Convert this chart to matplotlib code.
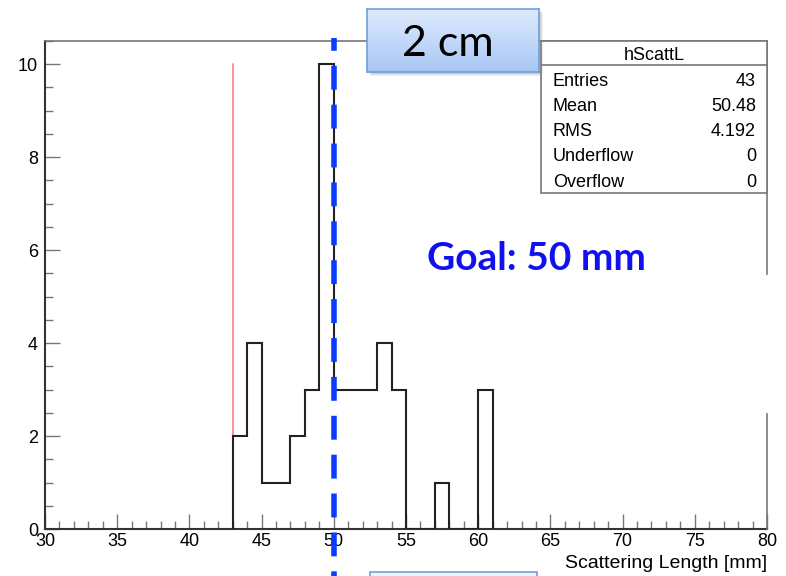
import numpy as np
import matplotlib
matplotlib.use("Agg")
import matplotlib.pyplot as plt
from matplotlib.patches import Rectangle
from matplotlib.lines import Line2D

# ---- data ----
bin_edges = np.arange(43, 62, 1)            # 1 mm bins, 43..61
counts = [2, 4, 1, 1, 2, 3, 10, 3, 3, 3, 4, 3, 0, 0, 1, 0, 0, 3]
red_line_x = 43
red_line_top = 10
goal_x = 50
stats_title = "hScattL"
stats_labels = ["Entries", "Mean", "RMS", "Underflow", "Overflow"]
stats_values = ["43", "50.48", "4.192", "0", "0"]
xticks = [30, 35, 40, 45, 50, 55, 60, 65, 70, 75, 80]
yticks = [0, 2, 4, 6, 8, 10]

W, H = 786, 576
fig = plt.figure(figsize=(W / 100, H / 100), dpi=100)


def fx(x):
    return x / W


def fy(y):
    return 1 - y / H


ax = fig.add_axes([fx(45), fy(529), fx(767) - fx(45), fy(41) - fy(529)])
ax.set_xlim(30, 80)
ax.set_ylim(0, 10.5)

ax.stairs(counts, bin_edges, baseline=0, color="#222222", lw=1.5, zorder=3)
ax.plot([red_line_x, red_line_x], [0, red_line_top], color="#f07a7a", lw=1.1, zorder=2)

# blue dashed goal line extending beyond the axes
ax.plot([goal_x, goal_x], [10.56, -1.02], color="#0a3cff", lw=4.0,
        linestyle=(2.0, (4.3, 2.7)), clip_on=False, zorder=5,
        dash_capstyle="butt")

ax.set_xticks(xticks)
ax.set_yticks(yticks)
ax.set_xticks(np.arange(30, 81, 1), minor=True)
ax.set_yticks(np.arange(0, 10.51, 0.5), minor=True)
tickfont = dict(family="Liberation Sans", size=13)
ax.set_xticklabels([str(t) for t in xticks], **tickfont)
ax.set_yticklabels([str(t) for t in yticks], **tickfont)
ax.tick_params(which="major", direction="in", length=11, width=1.0, color="#777777")
ax.tick_params(which="minor", direction="in", length=6, width=1.0, color="#777777")
ax.tick_params(axis="y", which="major", pad=5)
ax.tick_params(axis="x", which="major", pad=3)

for s in ["left", "bottom"]:
    ax.spines[s].set_color("#333333")
    ax.spines[s].set_linewidth(1.5)
ax.spines["top"].set_color("#777777")
ax.spines["top"].set_linewidth(1.2)
ax.spines["right"].set_visible(False)

# right frame, partially hidden
for y0, y1 in [(41, 274), (414, 529)]:
    fig.add_artist(Line2D([fx(767), fx(767)], [fy(y0), fy(y1)], color="#777777", lw=1.2))

fig.text(fx(767), fy(563), "Scattering Length [mm]", ha="right", va="center",
         family="Liberation Sans", size=14)

# stats box
fig.add_artist(Rectangle((fx(541), fy(193)), fx(767) - fx(541), fy(41) - fy(193),
                         transform=fig.transFigure, facecolor="white",
                         edgecolor="#777777", lw=1.2, zorder=6))
fig.add_artist(Line2D([fx(541), fx(767)], [fy(65), fy(65)], color="#777777", lw=1.2, zorder=7))
statfont = dict(family="Liberation Sans", size=13, zorder=8)
fig.text(fx(654), fy(55), stats_title, ha="center", va="center", **statfont)
for i, (lab, val) in enumerate(zip(stats_labels, stats_values)):
    yy = 81 + i * 25.3
    fig.text(fx(553), fy(yy), lab, ha="left", va="center", **statfont)
    fig.text(fx(756), fy(yy), val, ha="right", va="center", **statfont)

# Goal text
fig.text(fx(536), fy(259), "Goal: 50 mm", ha="center", va="center", color="#1010f0",
         family="Lato", weight="bold", size=28)

# "2 cm" callout box with gradient
for k, a in [(4, 0.12), (3, 0.15), (2, 0.2)]:
    fig.add_artist(Rectangle((fx(367 + k), fy(72 + k)), fx(539) - fx(367), fy(9) - fy(72),
                             transform=fig.transFigure, facecolor="#888888", edgecolor="none",
                             alpha=a, zorder=8))
bax = fig.add_axes([fx(367), fy(72), fx(539) - fx(367), fy(9) - fy(72)], zorder=9)
grad = np.linspace(0, 1, 64).reshape(-1, 1)
top_c = np.array([0.87, 0.92, 0.99])
bot_c = np.array([0.66, 0.78, 0.96])
img = top_c[None, None, :] * (1 - grad[:, :, None]) + bot_c[None, None, :] * grad[:, :, None]
bax.imshow(img, aspect="auto", extent=[0, 1, 0, 1])
bax.set_xticks([])
bax.set_yticks([])
for s in bax.spines.values():
    s.set_color("#6f9fd8")
    s.set_linewidth(1.2)
bax.text(0.47, 0.44, "2 cm", ha="center", va="center", transform=bax.transAxes,
         family="Lato", size=31, color="black")

# partially visible box at the bottom
fig.add_artist(Rectangle((fx(370), fy(580)), fx(537) - fx(370), fy(572) - fy(580),
                         transform=fig.transFigure, facecolor="#eef4fd",
                         edgecolor="#6f9fd8", lw=1.2, zorder=8, clip_on=False))

fig.savefig("out.png", dpi=100)
